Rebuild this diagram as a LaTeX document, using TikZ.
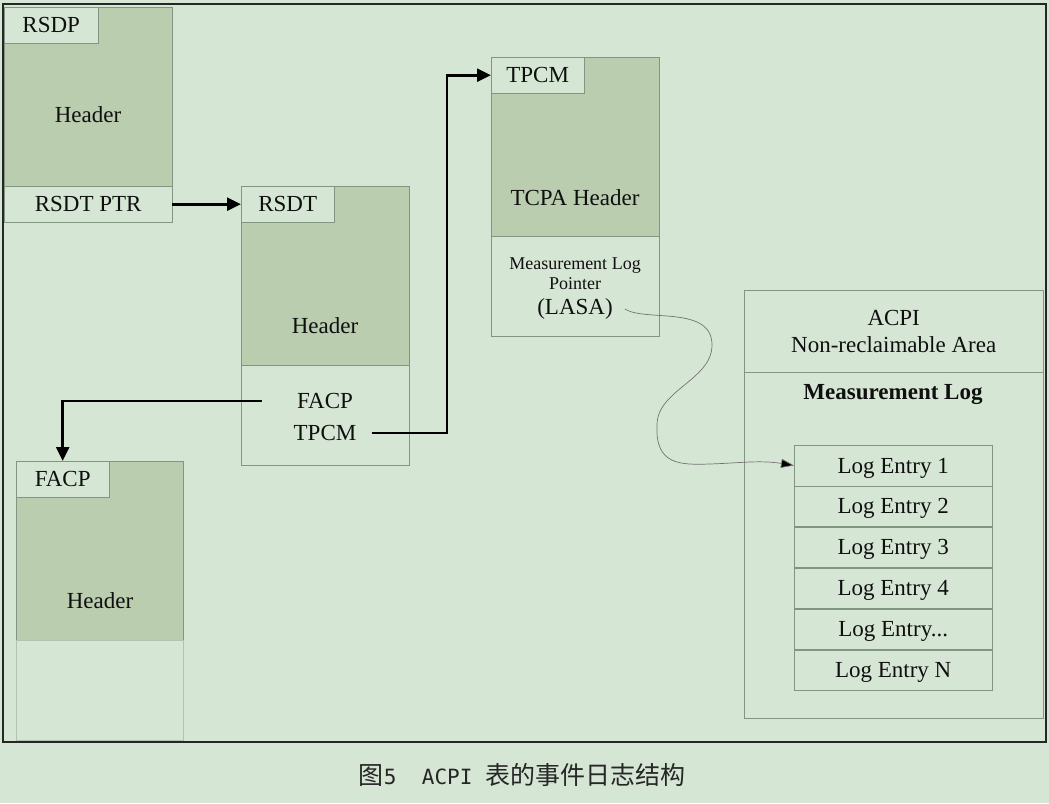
\documentclass[tikz,border=0pt]{standalone}
\usepackage{fontspec}
\setmainfont{Liberation Serif}
\setmonofont{DejaVu Sans Mono}
\newfontfamily\cjk{Noto Sans CJK SC}
\usetikzlibrary{arrows.meta,positioning}
\definecolor{bgcol}{RGB}{214,230,213}
\definecolor{hdcol}{RGB}{186,205,175}
\definecolor{edcol}{RGB}{128,150,128}
\definecolor{txcol}{RGB}{15,15,15}

\tikzset{
  cell/.style={draw=edcol,fill=bgcol,inner sep=0pt,anchor=north west,text=txcol,
    font=\fontsize{23}{27}\selectfont,align=center},
  hcell/.style={cell,fill=hdcol},
  txt/.style={inner sep=0pt,text=txcol,font=\fontsize{23}{27}\selectfont,align=center},
  logcell/.style={draw=edcol,fill=bgcol,inner sep=0pt,minimum width=198pt,
    minimum height=40.5pt,text depth=0pt,text=txcol,font=\fontsize{23}{27}\selectfont},
  ptr/.style={line width=2.6pt,-{Triangle[length=14pt,width=13pt]}},
}

\begin{document}
\begin{tikzpicture}[x=1pt,y=-1pt]
    \fill[bgcol] (0,0) rectangle (1049,803);
    \useasboundingbox (0,0) rectangle (1049,803);
    \draw[line width=1.6pt,black!85] (3,4) rectangle (1046,742);

    % RSDP
    \node[hcell,minimum width=168pt,minimum height=179pt] (rsdp) at (4,7) {};
    \node[cell,minimum width=168pt,minimum height=36pt] (rsdpptr) at (4,186) {RSDT PTR};
    \node[cell,minimum width=94pt,minimum height=36pt] (rsdptab) at (4,7) {RSDP};
    \node[txt] (rsdphdr) at (88,115) {Header};

    % RSDT
    \node[hcell,minimum width=168pt,minimum height=179pt] (rsdt) at (241,186) {};
    \node[cell,minimum width=168pt,minimum height=100pt] (rsdtlow) at (241,365) {};
    \node[cell,minimum width=93pt,minimum height=36pt] (rsdttab) at (241,186) {RSDT};
    \node[txt] (rsdthdr) at (325,326) {Header};
    \node[txt] (rsdtfacp) at (325,401) {FACP};
    \node[txt] (rsdttpcm) at (325,433) {TPCM};

    % TPCM
    \node[hcell,minimum width=168pt,minimum height=179pt] (tpcm) at (491,57) {};
    \node[cell,minimum width=168pt,minimum height=100pt] (tpcmlow) at (491,236) {};
    \node[cell,minimum width=93pt,minimum height=36pt] (tpcmtab) at (491,57) {TPCM};
    \node[txt] (tpcmhdr) at (575,198) {TCPA Header};
    \node[txt,font=\fontsize{18}{20}\selectfont] (mlp) at (575,274) {Measurement Log\\Pointer};
    \node[txt] (lasa) at (575,309) {(LASA)};

    % FACP
    \node[hcell,minimum width=167pt,minimum height=179pt] (facp) at (16,461) {};
    \node[cell,draw=edcol!60,minimum width=167pt,minimum height=100pt] (facplow) at (16,640) {};
    \node[cell,minimum width=93pt,minimum height=36pt] (facptab) at (16,461) {FACP};
    \node[txt] (facphdr) at (100,601) {Header};

    % ACPI area
    \node[cell,minimum width=299pt,minimum height=82pt] (acpi) at (744,290) {ACPI\\Non-reclaimable Area};
    \node[cell,minimum width=299pt,minimum height=346pt] (mlog) at (744,372) {};
    \node[txt,font=\fontsize{23}{27}\selectfont\bfseries] (mloghdr) at (893,395) {Measurement Log};

    % Log entries
    \node[logcell,anchor=north west] (log1) at (794,445) {Log Entry 1};
    \node[logcell,below=0pt of log1] (log2) {Log Entry 2};
    \node[logcell,below=0pt of log2] (log3) {Log Entry 3};
    \node[logcell,below=0pt of log3] (log4) {Log Entry 4};
    \node[logcell,below=0pt of log4] (log5) {Log Entry...};
    \node[logcell,below=0pt of log5] (log6) {Log Entry N};

    % Pointers
    \draw[ptr] (rsdpptr.east) -- (rsdttab.west);
    \draw[ptr] ([xshift=15pt]rsdttpcm.east) -| ([xshift=-44pt]tpcmtab.west) -- (tpcmtab.west);
    \draw[ptr] ([xshift=-35pt]rsdtfacp.west) -| (facptab.north);
    \draw[line width=0.7pt,draw=black!55,-{Triangle[length=13pt,width=9pt,fill=black]}]
        ([xshift=12pt]lasa.east) .. controls (645,322) and (712,305) .. (712,345)
        .. controls (712,380) and (657,390) .. (657,425)
        .. controls (655,465) and (680,465) .. (710,464)
        .. controls (740,463) and (760,460) .. (log1.west);

    % Caption
    \node[text=black!85] (cap) at (522,775)
        {{\cjk\fontsize{25}{28}\selectfont 图}{\ttfamily\fontsize{21}{28}\selectfont 5\ \ ACPI\ }{\cjk\fontsize{25}{28}\selectfont 表的事件日志结构}};
\end{tikzpicture}
\end{document}
